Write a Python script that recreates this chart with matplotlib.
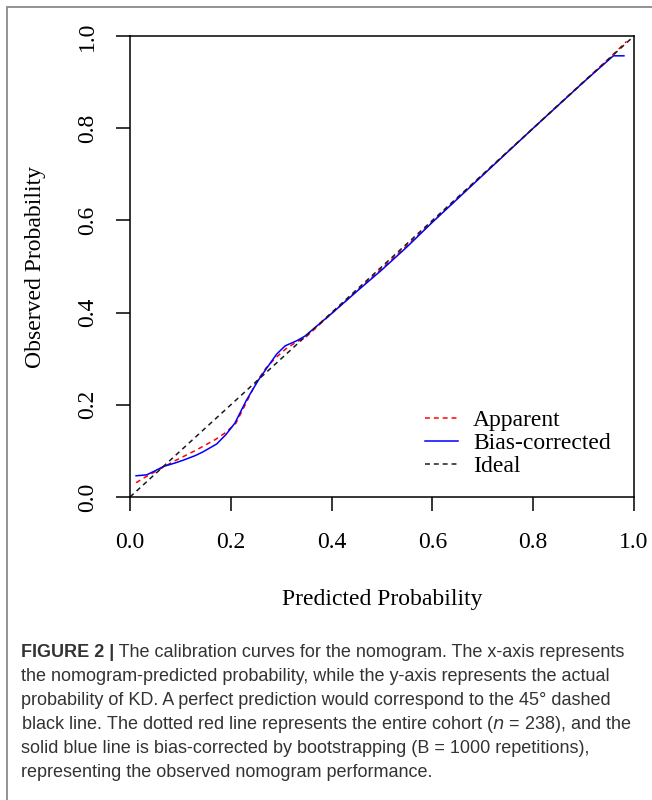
import matplotlib
matplotlib.use("Agg")
import matplotlib.pyplot as plt
from matplotlib.patches import Rectangle

# calibration curve data
apparent_x = [0.012, 0.03, 0.05, 0.07, 0.09, 0.11, 0.13, 0.15, 0.17, 0.19, 0.21,
              0.23, 0.25, 0.27, 0.29, 0.31, 0.33, 0.35, 0.40, 0.45, 0.50, 0.55,
              0.60, 0.65, 0.70, 0.75, 0.80, 0.85, 0.90, 0.95, 0.985]
apparent_y = [0.031, 0.043, 0.055, 0.067, 0.079, 0.090, 0.101, 0.113, 0.125, 0.140, 0.160,
              0.203, 0.248, 0.280, 0.303, 0.322, 0.336, 0.348, 0.398, 0.447, 0.496, 0.546,
              0.597, 0.648, 0.699, 0.750, 0.800, 0.851, 0.901, 0.951, 0.988]

biascorr_x = [0.012, 0.033, 0.05, 0.066, 0.09, 0.106, 0.13, 0.145, 0.172, 0.19, 0.208,
              0.231, 0.255, 0.271, 0.291, 0.308, 0.331, 0.347, 0.40, 0.45, 0.50, 0.55,
              0.60, 0.65, 0.70, 0.75, 0.80, 0.85, 0.90, 0.959, 0.980]
biascorr_y = [0.046, 0.048, 0.057, 0.066, 0.074, 0.080, 0.090, 0.098, 0.115, 0.135, 0.160,
              0.210, 0.254, 0.279, 0.310, 0.328, 0.339, 0.349, 0.398, 0.446, 0.493, 0.543,
              0.596, 0.647, 0.698, 0.749, 0.800, 0.850, 0.900, 0.957, 0.957]

ideal = [0, 1]
ticks = [0.0, 0.2, 0.4, 0.6, 0.8, 1.0]
tick_labels = ["0.0", "0.2", "0.4", "0.6", "0.8", "1.0"]

caption_head = "FIGURE 2 |"
caption_lines = [
    " The calibration curves for the nomogram. The x-axis represents",
    "the nomogram-predicted probability, while the y-axis represents the actual",
    "probability of KD. A perfect prediction would correspond to the 45\u00b0 dashed",
    "black line. The dotted red line represents the entire cohort ($\\it{n}$ = 238), and the",
    "solid blue line is bias-corrected by bootstrapping (B = 1000 repetitions),",
    "representing the observed nomogram performance.",
]

serif = "Liberation Serif"
sans = "Liberation Sans"
fs = 17

fig = plt.figure(figsize=(6.52, 8), dpi=100)
ax = fig.add_axes([130 / 652, 1 - 497 / 800, 504 / 652, 461 / 800])

ax.plot(apparent_x, apparent_y, color="red", lw=1.1, dashes=(3.2, 2.6), label="Apparent")
ax.plot(biascorr_x, biascorr_y, color="blue", lw=1.1, label="Bias-corrected")
ax.plot(ideal, ideal, color="#1a1a1a", lw=1.1, dashes=(3.2, 2.6), label="Ideal")

ax.set_xlim(0, 1)
ax.set_ylim(0, 1)
ax.set_xticks(ticks)
ax.set_xticklabels(tick_labels, fontfamily=serif, fontsize=fs)
ax.set_yticks(ticks)
ax.set_yticklabels(tick_labels, fontfamily=serif, fontsize=fs, rotation=90, va="center")
ax.tick_params(direction="out", length=10, width=1.1, pad=15)
ax.tick_params(axis="y", pad=13)
for sp in ax.spines.values():
    sp.set_linewidth(1.1)

ax.set_xlabel("Predicted Probability", fontfamily=serif, fontsize=fs)
ax.set_ylabel("Observed Probability", fontfamily=serif, fontsize=fs)
ax.xaxis.set_label_coords(0.5, -0.222)
ax.yaxis.set_label_coords(-0.188, 0.5)
for lab in (ax.xaxis.label, ax.yaxis.label):
    lab.set_verticalalignment("center")

ax.legend(loc="upper left", bbox_to_anchor=(0.585, 0.19), frameon=False,
          prop={"family": serif, "size": fs}, handlelength=1.4,
          handletextpad=0.64, labelspacing=0.06, borderpad=0, borderaxespad=0)

# outer panel border
fig.patches.append(Rectangle((7 / 652, -0.05), 1.2, 1.05 - 7 / 800,
                             transform=fig.transFigure, fill=False,
                             edgecolor="#8a8a8a", lw=1.3, clip_on=False))

# caption
cap_color = "#333333"
y0 = 1 - 657 / 800
dy = 24 / 800
head = fig.text(21 / 652, y0, caption_head, family=sans, fontsize=13,
                weight="bold", color=cap_color, va="baseline")
fig.canvas.draw()
bb = head.get_window_extent()
fig.text(bb.x1 / 652, y0, caption_lines[0], family=sans, fontsize=13,
         color=cap_color, va="baseline")
for i, line in enumerate(caption_lines[1:], start=1):
    fig.text(21 / 652, y0 - i * dy, line, family=sans, fontsize=13,
             color=cap_color, va="baseline")

plt.savefig("out.png", dpi=100)
